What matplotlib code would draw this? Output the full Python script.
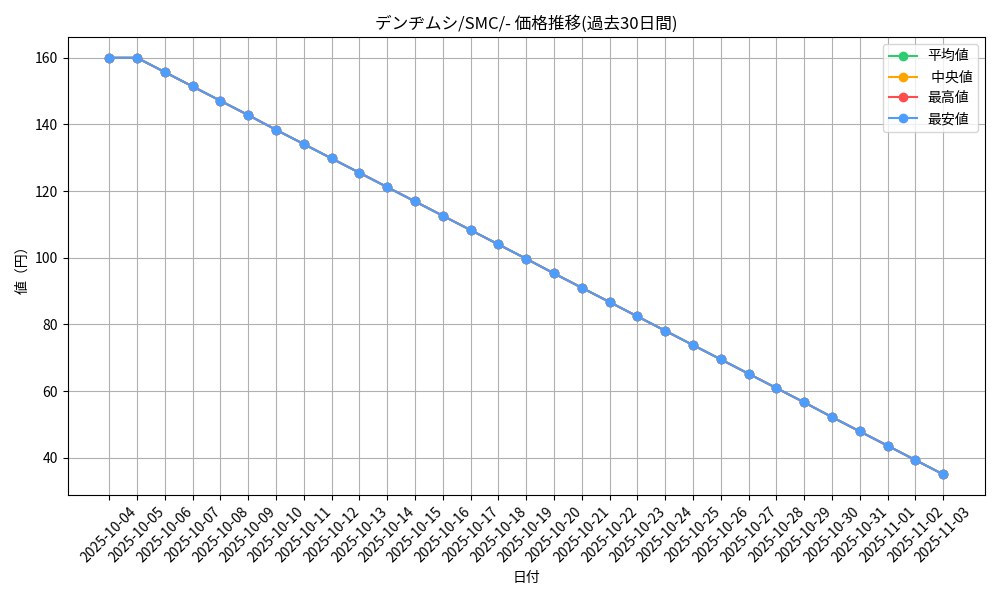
import matplotlib
matplotlib.use('Agg')
import matplotlib.pyplot as plt

plt.rcParams['font.family'] = ['Noto Sans CJK JP', 'DejaVu Sans']

dates = ['2025-10-04', '2025-10-05', '2025-10-06', '2025-10-07', '2025-10-08',
         '2025-10-09', '2025-10-10', '2025-10-11', '2025-10-12', '2025-10-13',
         '2025-10-14', '2025-10-15', '2025-10-16', '2025-10-17', '2025-10-18',
         '2025-10-19', '2025-10-20', '2025-10-21', '2025-10-22', '2025-10-23',
         '2025-10-24', '2025-10-25', '2025-10-26', '2025-10-27', '2025-10-28',
         '2025-10-29', '2025-10-30', '2025-10-31', '2025-11-01', '2025-11-02',
         '2025-11-03']
prices = [160.0, 160.0, 155.7, 151.4, 147.1, 142.8, 138.4, 134.1, 129.8, 125.5,
          121.2, 116.9, 112.6, 108.3, 104.0, 99.7, 95.3, 91.0, 86.7, 82.4,
          78.1, 73.8, 69.5, 65.2, 60.9, 56.6, 52.2, 47.9, 43.6, 39.3, 35.0]
avg_vals = prices
median_vals = prices
max_vals = prices
min_vals = prices

fig, ax = plt.subplots(figsize=(10, 6), dpi=100)
ax.plot(dates, avg_vals, marker='o', color='#2ecc71', label='平均値')
ax.plot(dates, median_vals, marker='o', color='#ffa500', label=' 中央値')
ax.plot(dates, max_vals, marker='o', color='#ff4d4d', label='最高値')
ax.plot(dates, min_vals, marker='o', color='#4d9dff', label='最安値')

ax.set_title('デンヂムシ/SMC/- 価格推移(過去30日間)', fontsize=12)
ax.set_xlabel('日付')
ax.set_ylabel('値（円）')
ax.grid(True, color='#b0b0b0')
ax.legend(loc='upper right')
plt.xticks(rotation=45)
plt.tight_layout()
plt.savefig('out.png')
